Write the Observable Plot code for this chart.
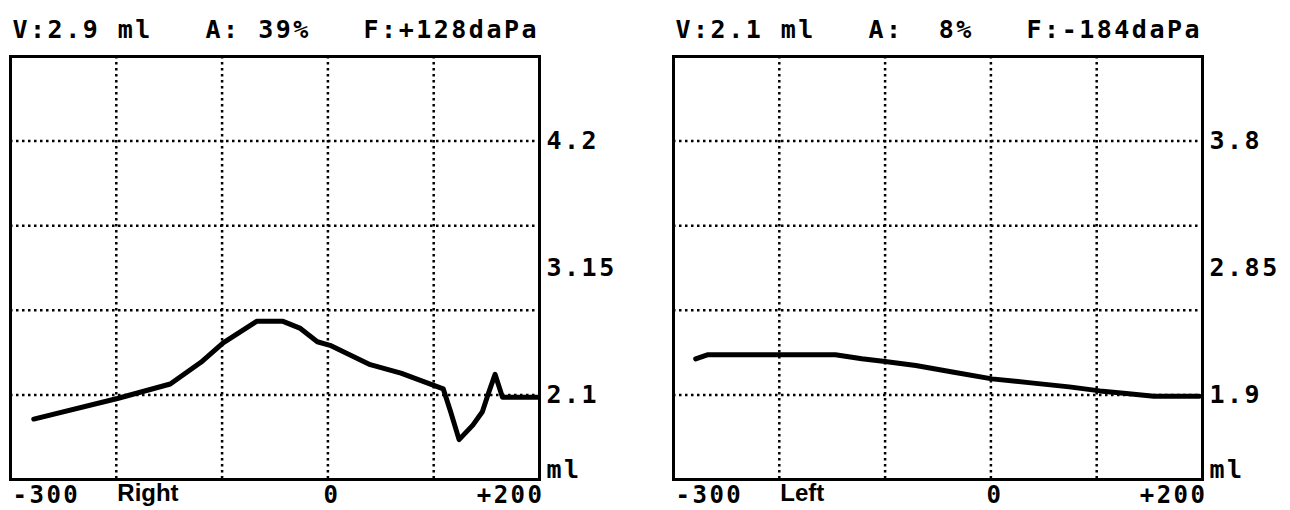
<!DOCTYPE html>
<html>
<head>
<meta charset="utf-8">
<script src="https://cdn.jsdelivr.net/npm/d3@7"></script>
<script src="https://cdn.jsdelivr.net/npm/@observablehq/plot@0.6"></script>
<style>
  body { margin: 0; background: #fff; }
  #wrap { position: relative; width: 1290px; height: 510px; overflow: hidden; display: flex; }
  svg text { white-space: pre; }
  g[font-family*="Mono"] text { letter-spacing: 2.5px; }
</style>
</head>
<body>
<div id="wrap"></div>
<script>
// Shared pressure axis (daPa)
const pressureDomain = [-300, 200];
const pressureTicks = [-300, 0, 200];
const pressureTickLabels = ["-300", "0", "+200"];
const pressureGrid = [-200, -100, 0, 100];

// Right ear (left panel)
const rightEarHeader = "V:2.9 ml   A: 39%   F:+128daPa";
const rightEarName = "Right";
const rightEarPressure = [-278, -199, -149, -133, -120, -99, -67, -43, -26, -10, 2, 40, 69, 109, 116, 124, 137, 146, 152, 158, 165, 198];
const rightEarVolume   = [1.90, 2.07, 2.19, 2.29, 2.37, 2.53, 2.71, 2.71, 2.65, 2.54, 2.51, 2.35, 2.28, 2.15, 1.96, 1.73, 1.85, 1.96, 2.12, 2.27, 2.08, 2.08];
const rightEarDomain = [1.4, 4.9];
const rightEarGrid = [2.1, 2.8, 3.5, 4.2];
const rightEarTicks = [2.1, 3.15, 4.2];
const rightEarTickLabels = ["2.1", "3.15", "4.2"];

// Left ear (right panel)
const leftEarHeader = "V:2.1 ml   A:  8%   F:-184daPa";
const leftEarName = "Left";
const leftEarPressure = [-279, -268, -147, -122, -100, -71, -35, 1, 38, 74, 103, 128, 154, 197];
const leftEarVolume   = [2.17, 2.20, 2.20, 2.17, 2.15, 2.12, 2.07, 2.02, 1.99, 1.96, 1.93, 1.91, 1.89, 1.89];
const leftEarDomain = [1.9 - 0.63333, 3.8 + 0.63333];
const leftEarGrid = [1.9, 2.53333, 3.16667, 3.8];
const leftEarTicks = [1.9, 2.85, 3.8];
const leftEarTickLabels = ["1.9", "2.85", "3.8"];

const unitLabel = "ml";
const MONO = "DejaVu Sans Mono";
const SANS = "Liberation Sans";

function panel({pressure, volume, yDomain, grid, ticks, tickLabels, header, name, marginLeft, marginRight}) {
  const data = pressure.map((p, i) => ({p, v: volume[i]}));
  const xt = pressureTicks.map((v, i) => ({v, label: pressureTickLabels[i]}));
  const yt = ticks.map((v, i) => ({v, label: tickLabels[i]}));
  const xMax = pressureDomain[1], xMin = pressureDomain[0];
  const yMin = yDomain[0], yMax = yDomain[1];
  const mono = {fontFamily: MONO, fontSize: 25, fontWeight: "bold", fill: "black"};
  const monoX = {...mono, fontSize: 24};
  const dotted = {stroke: "black", strokeWidth: 2.5, strokeDasharray: "2.5 3.5"};
  return Plot.plot({
    width: 645,
    height: 510,
    marginLeft, marginRight,
    marginTop: 56,
    marginBottom: 31,
    x: {domain: pressureDomain, axis: null},
    y: {domain: yDomain, axis: null},
    marks: [
      Plot.ruleX(pressureGrid, dotted),
      Plot.ruleY(grid, dotted),
      Plot.line(data, {x: "p", y: "v", stroke: "black", strokeWidth: 5, strokeLinejoin: "round"}),
      Plot.frame({stroke: "black", strokeWidth: 3}),
      // header
      Plot.text([header], {x: () => xMin, y: () => yMax, text: d => d, textAnchor: "start", dx: 2, dy: -27, ...mono}),
      // y tick labels on right
      Plot.text(yt, {x: () => xMax, y: "v", text: "label", textAnchor: "start", dx: 7, ...mono}),
      Plot.text([unitLabel], {x: () => xMax, y: () => yMin, text: d => d, textAnchor: "start", dx: 7, dy: -10, ...mono}),
      // x tick labels
      Plot.text([xt[0]], {x: "v", y: () => yMin, text: "label", textAnchor: "start", dx: 2, dy: 16, ...monoX}),
      Plot.text([xt[1]], {x: "v", y: () => yMin, text: "label", textAnchor: "middle", dx: 4, dy: 16, ...monoX}),
      Plot.text([xt[2]], {x: "v", y: () => yMin, text: "label", textAnchor: "end", dx: 5, dy: 16, ...monoX}),
      // ear name
      Plot.text([name], {x: () => pressureGrid[0], y: () => yMin, text: d => d, textAnchor: "start", dx: 1, dy: 14,
        fontFamily: SANS, fontSize: 24, fontWeight: "bold", fill: "black"})
    ]
  });
}

const wrap = document.getElementById("wrap");
wrap.append(panel({
  pressure: rightEarPressure, volume: rightEarVolume, yDomain: rightEarDomain,
  grid: rightEarGrid, ticks: rightEarTicks, tickLabels: rightEarTickLabels,
  header: rightEarHeader, name: rightEarName, marginLeft: 10, marginRight: 106
}));
wrap.append(panel({
  pressure: leftEarPressure, volume: leftEarVolume, yDomain: leftEarDomain,
  grid: leftEarGrid, ticks: leftEarTicks, tickLabels: leftEarTickLabels,
  header: leftEarHeader, name: leftEarName, marginLeft: 28, marginRight: 88
}));
</script>
</body>
</html>
